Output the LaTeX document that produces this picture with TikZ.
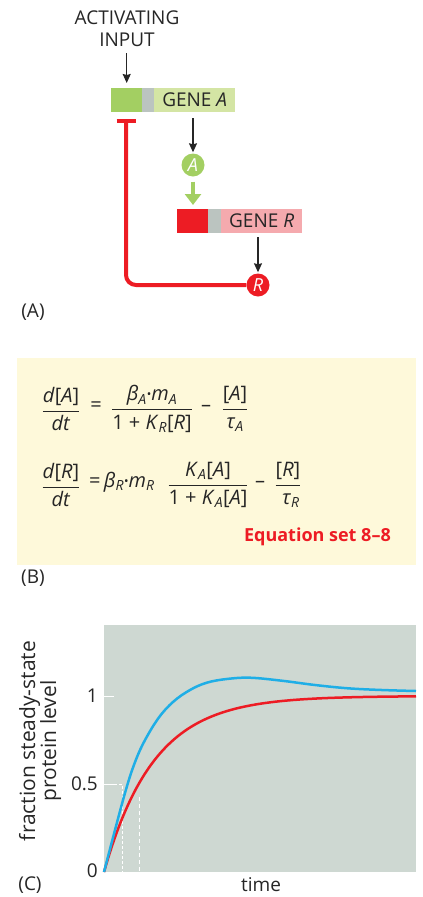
\documentclass[tikz,border=0pt]{standalone}
\usepackage{amsmath}
\usepackage{fontspec}
\setmainfont{Open Sans}
\usetikzlibrary{arrows.meta}
\definecolor{gdark}{HTML}{A3CF62}
\definecolor{glight}{HTML}{D4E5A4}
\definecolor{ggray}{HTML}{BBC4C0}
\definecolor{rdark}{HTML}{ED1C24}
\definecolor{rlight}{HTML}{F5AAAE}
\definecolor{ybox}{HTML}{FEF9DA}
\definecolor{plotbg}{HTML}{CED8D2}
\definecolor{cblue}{HTML}{1FAEE6}
\newcommand\dotop{\raisebox{0.2ex}{\fontsize{12}{12}\selectfont •}}
\newcommand\fr[2]{$\dfrac{\mbox{#1}}{\mbox{#2}}$}
\newcommand\sub[1]{\textsubscript{\textit{#1}}}
\begin{document}
\begin{tikzpicture}[x=1pt,y=-1pt,
  font=\fontsize{19}{22}\selectfont,
  seg/.style={inner sep=0pt, minimum height=24pt, anchor=north west, text=black!85},
  arr/.style={-{Stealth[length=9pt,width=8pt,inset=1pt]}, line width=1.1pt, black!85},
  garr/.style={-{Triangle[length=11pt,width=16pt]}, line width=4.5pt, gdark},
  prot/.style={circle, inner sep=0pt, minimum size=23pt, text=white, font=\fontsize{18}{20}\selectfont\itshape},
  eq/.style={inner sep=0pt, text=black!85, font=\fontsize{20}{24}\selectfont},
  lbl/.style={inner sep=0pt, text=black!85}]
\useasboundingbox (0,0) rectangle (423,897);

% ---------- Panel A ----------
\node[lbl, align=center] (inp) at (127,29) {ACTIVATING\\INPUT};
\node[seg, fill=gdark, minimum width=31pt] (gA1) at (111,88) {};
\node[seg, fill=ggray, minimum width=12pt] (gA2) at (142,88) {};
\node[seg, fill=glight, minimum width=81pt] (gA3) at (154,88) {GENE \textit{A}};
\node[prot, fill=gdark] (cA) at (193,165) {A};
\node[seg, fill=rdark, minimum width=31pt] (gR1) at (177,209) {};
\node[seg, fill=ggray, minimum width=13pt] (gR2) at (208,209) {};
\node[seg, fill=rlight, minimum width=81pt] (gR3) at (221,209) {GENE \textit{R}};
\node[prot, fill=rdark] (cR) at (258,285) {R};
\coordinate (tb) at (126,119);

\draw[arr, shorten <=6pt, shorten >=5pt] (inp.south -| gA1) -- (gA1);
\draw[arr, shorten <=6pt, shorten >=1pt] (cA |- gA3.south) -- (cA);
\draw[garr, shorten <=5pt, shorten >=4pt] (cA) -- (cA |- gR1.north);
\draw[arr, shorten <=4pt, shorten >=1pt] (cR |- gR3.south) -- (cR);
\draw[rdark, line width=4pt, rounded corners=10pt, -{Bar[width=19pt]}] (cR.west) -| (tb);

\node[lbl] (la) at (33,312) {(A)};

% ---------- Panel B ----------
\fill[ybox] (17,358) rectangle (416,565);
\node[eq] (e1a) at (61,409) {\fr{\textit{d}[\textit{A}]}{\textit{dt}}};
\node[eq, anchor=mid] (e1b) at (96,409) {=};
\node[eq] (e1c) at (152,409) {\fr{\textit{β}\sub{A}\dotop\textit{m}\sub{A}}{1 + \textit{K}\sub{R}[\textit{R}]}};
\node[eq, anchor=mid] (e1d) at (206,409) {–};
\node[eq] (e1e) at (235,409) {\fr{[\textit{A}]}{\textit{τ}\sub{A}}};

\node[eq] (e2a) at (61,485) {\fr{\textit{d}[\textit{R}]}{\textit{dt}}};
\node[eq, anchor=mid west] (e2b) at (89,485) {=\,\textit{β}\sub{R}\dotop\textit{m}\sub{R}};
\node[eq] (e2c) at (208,485) {\fr{\textit{K}\sub{A}[\textit{A}]}{1 + \textit{K}\sub{A}[\textit{A}]}};
\node[eq, anchor=mid] (e2d) at (260,485) {–};
\node[eq] (e2e) at (288,485) {\fr{[\textit{R}]}{\;\textit{τ}\sub{R}}};

\node[eq, anchor=east, text=rdark, font=\fontsize{18}{22}\selectfont\bfseries] (es) at (391,537) {Equation set 8–8};
\node[lbl] (lb) at (33,578) {(B)};

% ---------- Panel C ----------
\fill[plotbg] (104,625) rectangle (416,872);
\draw[white, line width=1pt] (104,696) -- (114,696);
\draw[white, line width=1pt] (104,784) -- (114,784);
\draw[white, line width=1pt, dash pattern=on 3pt off 2pt] (114,784) -- (122,784) -- (122,872);
\draw[white, line width=1pt, dash pattern=on 4pt off 3pt] (139,797) -- (139,872);
\node[lbl, anchor=east] (t1) at (98,696) {1};
\node[lbl, anchor=east] (t05) at (98,784) {0.5};
\node[lbl, anchor=east] (t0) at (98,871) {0};
\node[lbl, rotate=90, align=center, font=\fontsize{21}{21}\selectfont] (ylab) at (40,741) {fraction steady-state\\protein level};
\node[lbl, anchor=base] (xlab) at (261,891) {time};
\node[lbl, anchor=base] (lc) at (30,890) {(C)};

\draw[rdark, line width=2.5pt, line join=round] plot[domain=0:312, samples=80, smooth] ({104+\x},{872-176*(1-exp(-\x/50))});
\draw[cblue, line width=2.5pt, line join=round] plot[smooth, tension=0.6] coordinates {(104,872) (115,830) (125,793) (133.3,766.7) (143.3,743.3) (158.3,718.3) (173.3,701.7) (190,690) (206.7,682.7) (226.7,679) (250,677.7) (281.7,680.7) (315,685) (348,688.3) (381.7,690) (416,691)};
\end{tikzpicture}
\end{document}
